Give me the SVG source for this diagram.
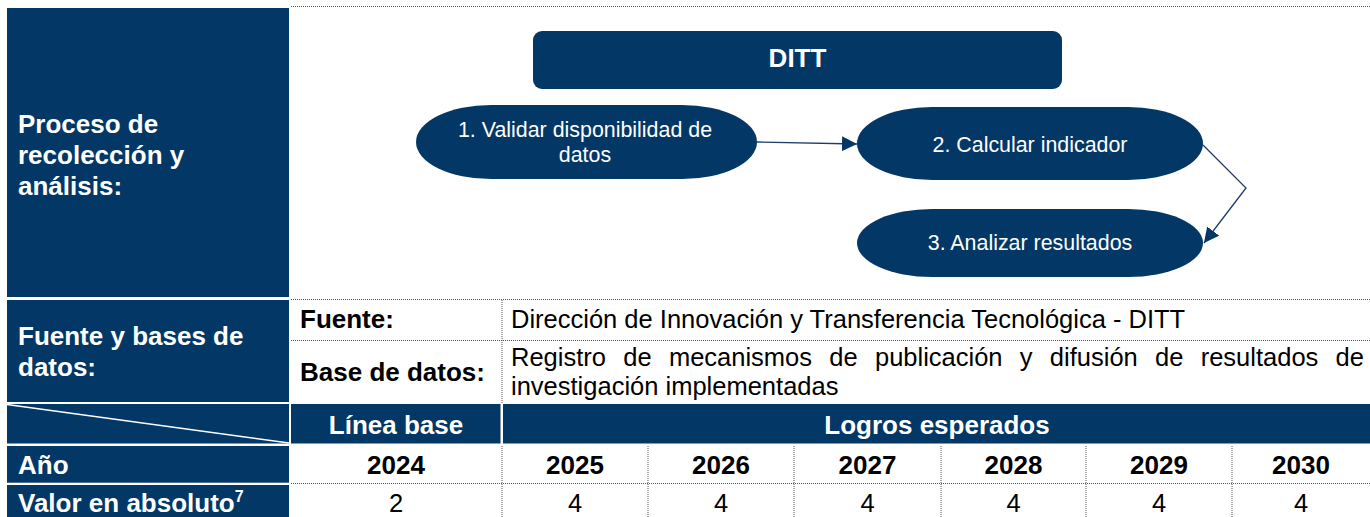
<svg xmlns="http://www.w3.org/2000/svg" width="1370" height="517" viewBox="0 0 1370 517">
<style>
.dk{fill:#033765}
.dot{stroke:#555;stroke-width:1;stroke-dasharray:1 1;fill:none}
.wb{font-family:"Liberation Sans",Arial,sans-serif;font-weight:bold;font-size:26px;fill:#fff}
.kb{font-family:"Liberation Sans",Arial,sans-serif;font-weight:bold;font-size:26px;fill:#000}
.kr{font-family:"Liberation Sans",Arial,sans-serif;font-size:25.5px;fill:#000}
.fl{font-family:"Liberation Sans",Arial,sans-serif;font-size:21.4px;fill:#fff;text-anchor:middle}
.mid{text-anchor:middle}
.conn{stroke:#1d3d68;stroke-width:1.3;fill:none}
</style>
<defs>
<marker id="ah" viewBox="0 0 10 10" refX="10" refY="5" markerWidth="15" markerHeight="15" markerUnits="userSpaceOnUse" orient="auto">
<path d="M0,0 L10,5 L0,10 z" fill="#033765"/>
</marker>
</defs>
<rect width="1370" height="517" fill="#fff"/>

<g id="table-grid">
<line class="dot" x1="291" y1="6.5" x2="1370" y2="6.5"/>
<line class="dot" x1="291" y1="299.5" x2="1370" y2="299.5"/>
<line class="dot" x1="291" y1="340.5" x2="1370" y2="340.5"/>
<line class="dot" x1="502" y1="300" x2="502" y2="404"/>
<line class="dot" x1="291" y1="483.5" x2="1370" y2="483.5"/>
<line class="dot" x1="502" y1="446" x2="502" y2="517"/>
<line class="dot" x1="648" y1="446" x2="648" y2="517"/>
<line class="dot" x1="794" y1="446" x2="794" y2="517"/>
<line class="dot" x1="941" y1="446" x2="941" y2="517"/>
<line class="dot" x1="1086" y1="446" x2="1086" y2="517"/>
<line class="dot" x1="1232" y1="446" x2="1232" y2="517"/>
</g>

<g id="cell-proceso">
<rect class="dk" x="7" y="8" width="282" height="289"/>
<text class="wb" x="18" y="133">Proceso de</text>
<text class="wb" x="18" y="164">recolección y</text>
<text class="wb" x="18" y="195">análisis:</text>
</g>

<g id="cell-fuente-bases">
<rect class="dk" x="7" y="300" width="282" height="102"/>
<text class="wb" x="18" y="345">Fuente y bases de</text>
<text class="wb" x="18" y="376">datos:</text>
</g>

<g id="cell-fuente">
<text class="kb" x="300" y="328">Fuente:</text>
<text class="kr" x="511" y="328">Dirección de Innovación y Transferencia Tecnológica - DITT</text>
</g>

<g id="cell-base-datos">
<text class="kb" x="300" y="381">Base de datos:</text>
<text class="kr" x="511" y="366" word-spacing="10.2">Registro de mecanismos de publicación y difusión de resultados de</text>
<text class="kr" x="511" y="395">investigación implementadas</text>
</g>

<g id="cell-diagonal">
<rect class="dk" x="7" y="404" width="282" height="39.5"/>
<line x1="7" y1="404.5" x2="289" y2="443" stroke="#fff" stroke-width="1.5"/>
</g>

<g id="cell-linea-base">
<rect class="dk" x="291" y="404" width="209.5" height="39.5"/>
<text class="wb mid" x="396" y="434">Línea base</text>
</g>

<g id="cell-logros">
<rect class="dk" x="503" y="404" width="867" height="39.5"/>
<text class="wb mid" x="937" y="434">Logros esperados</text>
</g>

<g id="row-anio">
<rect class="dk" x="7" y="446" width="282" height="36.7"/>
<text class="wb" x="18" y="474">Año</text>
<text class="kb mid" x="396" y="474">2024</text>
<text class="kb mid" x="575" y="474">2025</text>
<text class="kb mid" x="721" y="474">2026</text>
<text class="kb mid" x="867.5" y="474">2027</text>
<text class="kb mid" x="1013.5" y="474">2028</text>
<text class="kb mid" x="1159" y="474">2029</text>
<text class="kb mid" x="1301" y="474">2030</text>
</g>

<g id="row-valor">
<rect class="dk" x="7" y="485" width="282" height="32"/>
<text class="wb" x="18" y="512">Valor en absoluto<tspan font-size="16" dy="-10">7</tspan></text>
<text class="kr mid" x="396" y="512">2</text>
<text class="kr mid" x="575" y="512">4</text>
<text class="kr mid" x="721" y="512">4</text>
<text class="kr mid" x="867.5" y="512">4</text>
<text class="kr mid" x="1013.5" y="512">4</text>
<text class="kr mid" x="1159" y="512">4</text>
<text class="kr mid" x="1301" y="512">4</text>
</g>

<g id="node-ditt">
<rect class="dk" x="533" y="31" width="529" height="58" rx="9"/>
<text class="wb mid" x="797.5" y="67" font-size="22">DITT</text>
</g>

<g id="node-1">
<rect class="dk" x="416" y="105" width="341" height="74" rx="75" ry="37"/>
<text class="fl" x="585" y="137">1. Validar disponibilidad de</text>
<text class="fl" x="585" y="162">datos</text>
</g>

<g id="node-2">
<rect class="dk" x="857" y="107" width="346" height="73" rx="75" ry="36.5"/>
<text class="fl" x="1030" y="152">2. Calcular indicador</text>
</g>

<g id="node-3">
<rect class="dk" x="857" y="209" width="346" height="68" rx="75" ry="34"/>
<text class="fl" x="1030" y="250">3. Analizar resultados</text>
</g>

<g id="connectors">
<line class="conn" x1="757" y1="142" x2="857" y2="144" marker-end="url(#ah)"/>
<polyline class="conn" points="1203,145 1246,188 1204,243" marker-end="url(#ah)"/>
</g>
</svg>
